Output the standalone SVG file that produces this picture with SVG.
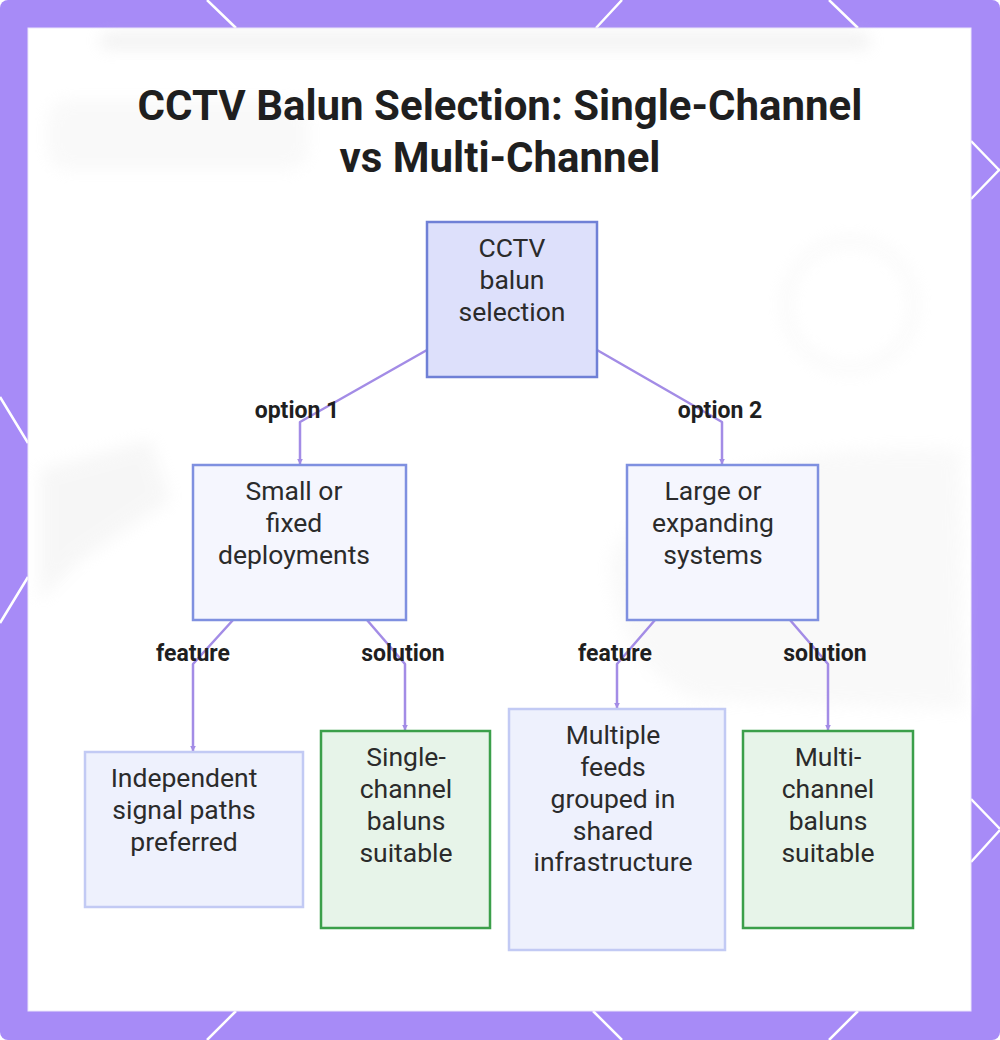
<svg xmlns="http://www.w3.org/2000/svg" width="1000" height="1040" viewBox="0 0 1000 1040">
  <defs>
    <style>
      .title{font-family:Roboto,"Liberation Sans",sans-serif;font-weight:700;font-size:42px;fill:#1f1f1f;text-anchor:middle}
      .nt{font-family:Roboto,"Liberation Sans",sans-serif;font-size:26.5px;fill:#2b2b2b;text-anchor:middle}
      .el{font-family:Roboto,"Liberation Sans",sans-serif;font-weight:700;font-size:23px;fill:#1f1f1f;text-anchor:middle}
      .edge{fill:none;stroke:#a38ce6;stroke-width:2.5;stroke-linejoin:round}
      .root{fill:#dde0fb;stroke:#6f80d6;stroke-width:2.5}
      .mid{fill:#f5f6fe;stroke:#7f90e0;stroke-width:2.5}
      .leaf{fill:#eef1fd;stroke:#c2caf4;stroke-width:2.5}
      .sol{fill:#e7f4e9;stroke:#3b9f4a;stroke-width:2.5}
      .deco{stroke:#ffffff;stroke-width:2.5;fill:none}
    </style>
    <marker id="arr" viewBox="0 0 10 10" refX="9" refY="5" markerWidth="2.4" markerHeight="2.4" orient="auto">
      <path d="M0,0 L10,5 L0,10 z" fill="#a38ce6"/>
    </marker>
    <filter id="blur" x="-20%" y="-20%" width="140%" height="140%">
      <feGaussianBlur stdDeviation="8"/>
    </filter>
  </defs>

  <!-- frame -->
  <rect x="0" y="0" width="1000" height="1040" rx="8" fill="#a78bf7"/>
  <g class="deco">
    <path d="M207,0 L236,28 M622,0 L596,28 M829,0 L858,28"/>
    <path d="M207,1040 L236,1011 M622,1040 L593,1011 M829,1040 L858,1011"/>
    <path d="M0,397 L28,443 M0,623 L28,577"/>
    <path d="M971,141 L1000,171 M971,199 L1000,169 M971,799 L1000,829 M971,862 L1000,830"/>
  </g>
  <rect x="28" y="28" width="943" height="983" fill="#ffffff" stroke="#ece6fb" stroke-width="1"/>

  <!-- faint blurred background -->
  <g filter="url(#blur)" opacity="0.3">
    <rect x="100" y="34" width="770" height="14" rx="7" fill="#cfcfcf"/>
    <rect x="48" y="100" width="260" height="70" rx="20" fill="#ececec"/>
    <circle cx="850" cy="305" r="64" fill="none" stroke="#e8e8e8" stroke-width="8"/>
    <path d="M40,470 L150,440 L170,500 L80,560 L40,600 Z" fill="#e4e4e4"/>
    <path d="M610,560 C640,480 800,440 960,450 L965,710 L700,700 C640,680 610,620 610,560 Z" fill="#ececec"/>
  </g>

  <!-- title -->
  <text class="title" x="500" y="120">CCTV Balun Selection: Single-Channel</text>
  <text class="title" x="500" y="172">vs Multi-Channel</text>

  <!-- connectors -->
  <g id="connectors">
    <path class="edge" d="M427,350 L300,422 L300,464" marker-end="url(#arr)"/>
    <path class="edge" d="M597,350 L722,422 L722,464" marker-end="url(#arr)"/>
    <path class="edge" d="M233,620 L193,664 L193,751" marker-end="url(#arr)"/>
    <path class="edge" d="M367,620 L405,664 L405,730" marker-end="url(#arr)"/>
    <path class="edge" d="M655,620 L617,664 L617,708" marker-end="url(#arr)"/>
    <path class="edge" d="M790,620 L828,664 L828,730" marker-end="url(#arr)"/>
    <text class="el" x="297" y="418">option 1</text>
    <text class="el" x="720" y="418">option 2</text>
    <text class="el" x="193" y="661">feature</text>
    <text class="el" x="403" y="661">solution</text>
    <text class="el" x="615" y="661">feature</text>
    <text class="el" x="825" y="661">solution</text>
  </g>

  <!-- nodes -->
  <g id="root">
    <rect class="root" x="427" y="222" width="170" height="155"/>
    <text class="nt" x="512" y="257">CCTV</text>
    <text class="nt" x="512" y="289">balun</text>
    <text class="nt" x="512" y="321">selection</text>
  </g>
  <g id="small">
    <rect class="mid" x="193" y="465" width="213" height="155"/>
    <text class="nt" x="294" y="500">Small or</text>
    <text class="nt" x="294" y="532">fixed</text>
    <text class="nt" x="294" y="564">deployments</text>
  </g>
  <g id="large">
    <rect class="mid" x="627" y="465" width="191" height="155"/>
    <text class="nt" x="713" y="500">Large or</text>
    <text class="nt" x="713" y="532">expanding</text>
    <text class="nt" x="713" y="564">systems</text>
  </g>
  <g id="independent">
    <rect class="leaf" x="85" y="752" width="218" height="155"/>
    <text class="nt" x="184" y="787">Independent</text>
    <text class="nt" x="184" y="819">signal paths</text>
    <text class="nt" x="184" y="851">preferred</text>
  </g>
  <g id="single">
    <rect class="sol" x="321" y="731" width="169" height="197"/>
    <text class="nt" x="406" y="766">Single-</text>
    <text class="nt" x="406" y="798">channel</text>
    <text class="nt" x="406" y="830">baluns</text>
    <text class="nt" x="406" y="862">suitable</text>
  </g>
  <g id="multiple">
    <rect class="leaf" x="509" y="709" width="216" height="241"/>
    <text class="nt" x="613" y="744">Multiple</text>
    <text class="nt" x="613" y="776">feeds</text>
    <text class="nt" x="613" y="808">grouped in</text>
    <text class="nt" x="613" y="840">shared</text>
    <text class="nt" x="613" y="871">infrastructure</text>
  </g>
  <g id="multi">
    <rect class="sol" x="743" y="731" width="170" height="197"/>
    <text class="nt" x="828" y="766">Multi-</text>
    <text class="nt" x="828" y="798">channel</text>
    <text class="nt" x="828" y="830">baluns</text>
    <text class="nt" x="828" y="862">suitable</text>
  </g>
</svg>
